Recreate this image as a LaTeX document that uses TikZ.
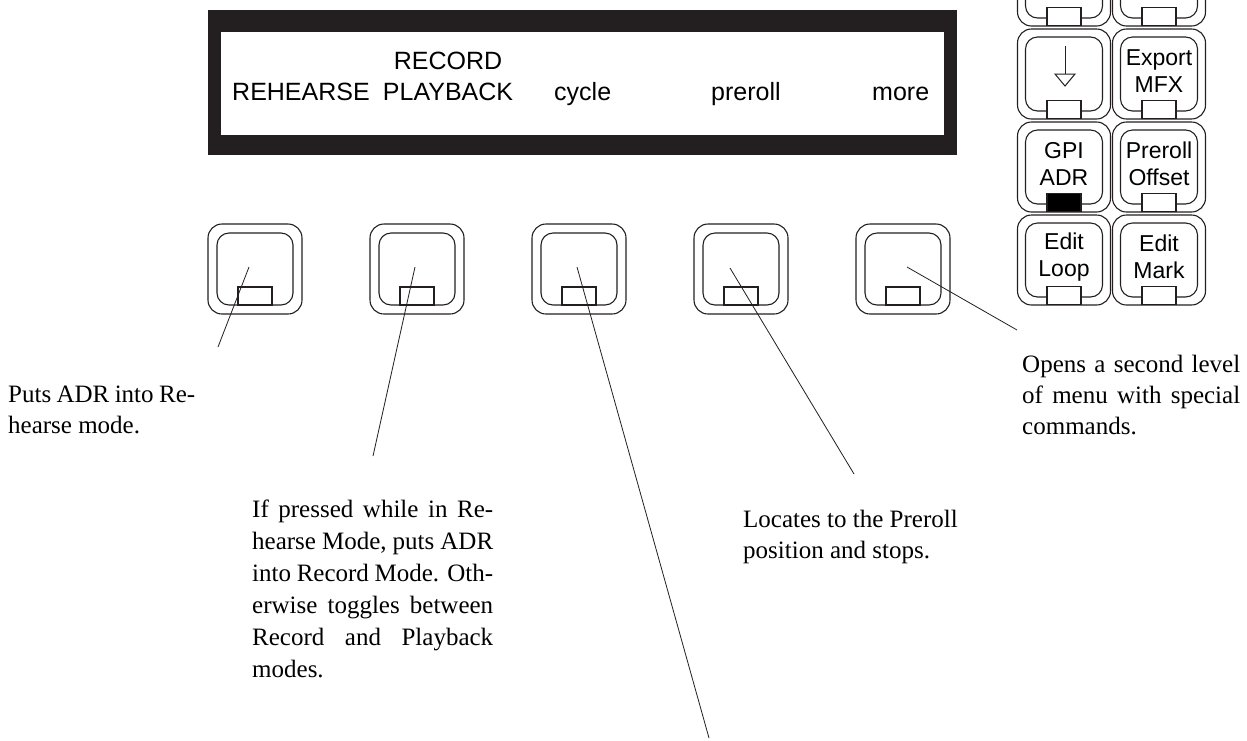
\documentclass[tikz,border=0pt]{standalone}
\usepackage{fontspec}
\setmainfont{Liberation Serif}
\newfontfamily\keyfont{Liberation Sans}
\usetikzlibrary{calc}
\definecolor{ink}{HTML}{231F20}
\newcommand\jline[2]{\makebox[#1][s]{#2}}
\begin{document}
\begin{tikzpicture}[x=1pt,y=-1pt,
  keyout/.style={draw=ink, line width=1.1pt, rounded corners=14pt, minimum width=94pt, minimum height=90pt, inner sep=0pt},
  keyin/.style={draw=ink, line width=1.1pt, rounded corners=12pt, minimum width=76pt, minimum height=72pt, inner sep=0pt},
  rkeyout/.style={draw=ink, line width=1.1pt, rounded corners=14pt, minimum width=93pt, minimum height=90pt, inner sep=0pt},
  rkeyin/.style={draw=ink, line width=1.1pt, rounded corners=12pt, minimum width=77pt, minimum height=74pt, inner sep=0pt},
  lamp/.style={draw=ink, line width=1.1pt, fill=white, minimum width=34pt, minimum height=18pt, inner sep=0pt},
  lampon/.style={lamp, fill=black},
  disp/.style={font=\keyfont\fontsize{25}{30}\selectfont, inner sep=0pt},
  keytext/.style={font=\keyfont\fontsize{23}{27}\selectfont, align=center, inner sep=0pt},
  note/.style={font=\fontsize{25}{31}\selectfont, align=left, inner sep=0pt, anchor=base west},
  leader/.style={draw=ink, line width=0.8pt}]
\useasboundingbox (0,0) rectangle (1247,740);
\clip (0,0) rectangle (1247,740);

% display
\node[fill=ink, minimum width=749pt, minimum height=145pt, inner sep=0pt] (display) at (582.5,82.5) {};
\node[fill=white, minimum width=723pt, minimum height=103pt, inner sep=0pt] (screen) at (582.5,83.5) {};
\node[disp, anchor=base west] (t1) at (232,100) {REHEARSE};
\node[disp, anchor=base] (t2) at (448,100) {PLAYBACK};
\node[disp, anchor=base] (t2b) at (448,69) {RECORD};
\node[disp, anchor=base west] (t3) at (554,100) {cycle};
\node[disp, anchor=base west] (t4) at (711,100) {preroll};
\node[disp, anchor=base west] (t5) at (872,100) {more};

% main soft keys
\foreach \i/\x in {1/255,2/417,3/579,4/741,5/903}{
  \node[keyout] (k\i) at (\x,269) {};
  \node[keyin] (k\i in) at (\x,269) {};
  \node[lamp] (k\i lamp) at (\x,296) {};
}

% right column keys
\foreach \c/\x in {a/1064,b/1159}{
  \foreach \r/\y in {1/-19,2/74,3/167,4/260}{
    \node[rkeyout] (r\c\r) at (\x,\y) {};
    \node[rkeyin] (r\c\r in) at (\x,\y) {};
  }
}
\foreach \n in {ra1,rb1,ra2,rb2,rb3,ra4,rb4}{
  \node[lamp] (\n lamp) at ($(\n.south)+(0,-10)$) {};
}
\node[lampon] (ra3lamp) at ($(ra3.south)+(0,-10)$) {};

% arrow key
\coordinate (arrtop) at (1065,46);
\coordinate (arrbase) at (1065,74);
\draw[draw=ink, line width=1pt] (arrtop) -- (arrbase);
\draw[draw=ink, line width=1pt, line join=miter] (1055,74) -- (1075,74) -- (1065,86) -- cycle;

\node[keytext] (lb2) at (1159,71) {Export\\MFX};
\node[keytext] (la3) at (1064,164) {GPI\\ADR};
\node[keytext] (lb3) at (1159,164) {Preroll\\Offset};
\node[keytext] (la4) at (1064,257) {Edit\\Loop};
\node[keytext] (lb4) at (1159,257) {Edit\\Mark};

% notes (anchor = baseline of last line)
\node[note] (n1) at (8,433) {\jline{187pt}{Puts ADR into Re-}\\hearse mode.};
\node[note] (n5) at (1022,434) {\jline{218pt}{Opens a second level}\\\jline{218pt}{of menu with special}\\commands.};
\node[note, font=\fontsize{25}{32}\selectfont] (n2) at (252,677) {\jline{241pt}{If pressed while in Re-}\\\jline{241pt}{hearse Mode, puts ADR}\\\jline{241pt}{into Record Mode. Oth-}\\\jline{241pt}{erwise toggles between}\\\jline{241pt}{Record and Playback}\\modes.};
\node[note] (n4) at (743,558) {Locates to the Preroll\\position and stops.};

% leaders
\coordinate (p1) at (249,267); \coordinate (e1) at (218,347);
\coordinate (p2) at (415,267); \coordinate (e2) at (373,456);
\coordinate (p3) at (577,267); \coordinate (e3) at (709,738);
\coordinate (p4) at (730,268); \coordinate (e4) at (854,474);
\coordinate (p5) at (907,267); \coordinate (e5) at (1017,330);
\foreach \i in {1,...,5}{\draw[leader] (p\i) -- (e\i);}
\end{tikzpicture}
\end{document}
